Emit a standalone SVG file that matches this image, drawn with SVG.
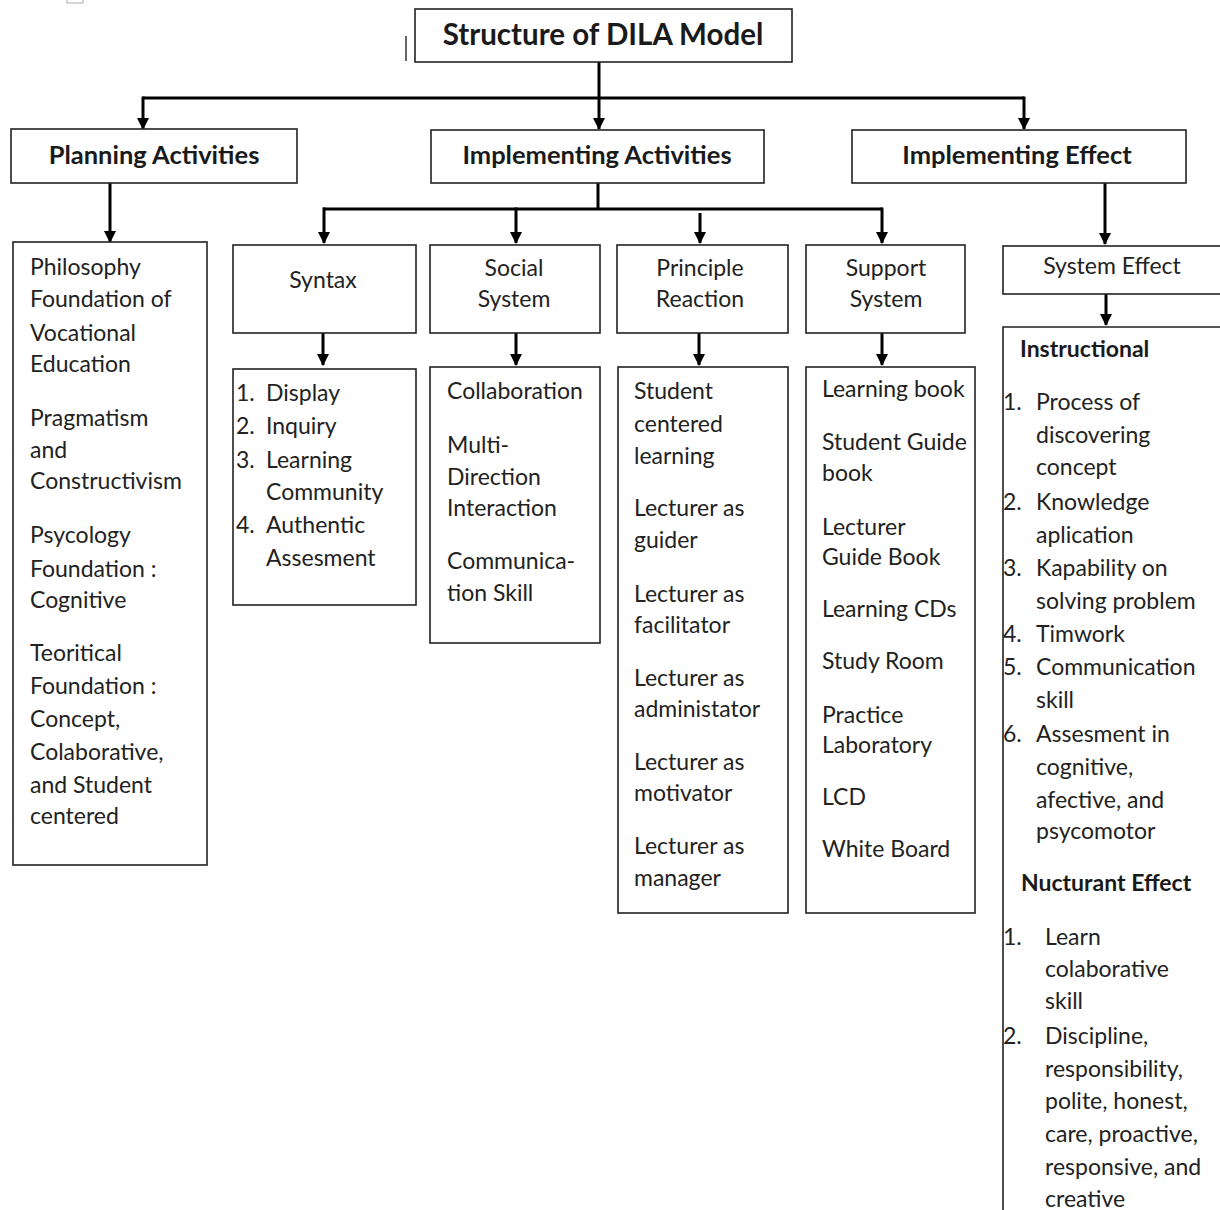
<svg xmlns="http://www.w3.org/2000/svg" width="1220" height="1210" viewBox="0 0 1220 1210">
<style>
.box{fill:#fff;stroke:#222;stroke-width:1.6}
.t{font-family:Lato,"Liberation Sans",sans-serif;font-size:23px;fill:#222}
.c{text-anchor:middle}
.h{font-family:Lato,"Liberation Sans",sans-serif;font-weight:bold;fill:#1a1a1a;text-anchor:middle}
.b{font-family:Lato,"Liberation Sans",sans-serif;font-weight:bold;font-size:23px;fill:#1a1a1a}
.ln{fill:none;stroke:#000;stroke-width:3}
.ar{fill:none;stroke:#000;stroke-width:3;marker-end:url(#ah)}
</style>
<defs>
<marker id="ah" viewBox="0 0 12 12" refX="11" refY="6" markerWidth="12" markerHeight="12" markerUnits="userSpaceOnUse" orient="auto">
<path d="M0,0 L12,6 L0,12 z" fill="#000"/>
</marker>
</defs>
<rect width="1220" height="1210" fill="#fff"/>
<rect x="67" y="-2" width="16" height="5" fill="none" stroke="#aaa" stroke-width="1"/>
<line x1="406" y1="36" x2="406" y2="61" stroke="#333" stroke-width="1.5"/>

<g id="connectors">
<line class="ar" x1="599" y1="62" x2="599" y2="129"/>
<polyline class="ln" points="1024,98 143,98"/>
<line class="ar" x1="143" y1="96.5" x2="143" y2="129"/>
<line class="ar" x1="1024" y1="96.5" x2="1024" y2="129"/>
<line class="ar" x1="110" y1="183" x2="110" y2="242"/>
<line class="ln" x1="598" y1="183" x2="598" y2="209"/>
<line class="ln" x1="323" y1="209" x2="882" y2="209"/>
<line class="ar" x1="324" y1="207.5" x2="324" y2="243"/>
<line class="ar" x1="516" y1="207.5" x2="516" y2="243"/>
<line class="ar" x1="700" y1="213" x2="700" y2="243"/>
<line class="ar" x1="882" y1="207.5" x2="882" y2="243"/>
<line class="ar" x1="1105" y1="183" x2="1105" y2="244"/>
<line class="ar" x1="323" y1="333" x2="323" y2="365"/>
<line class="ar" x1="516" y1="333" x2="516" y2="365"/>
<line class="ar" x1="699" y1="333" x2="699" y2="365"/>
<line class="ar" x1="882" y1="333" x2="882" y2="365"/>
<line class="ar" x1="1106" y1="294" x2="1106" y2="325"/>
</g>

<g id="title">
<rect class="box" x="415" y="9" width="377" height="53"/>
<text class="h" x="603" y="45" font-size="29.5">Structure of DILA Model</text>
</g>
<g id="planning">
<rect class="box" x="11" y="129" width="286" height="54"/>
<text class="h" x="154" y="164" font-size="25.5">Planning Activities</text>
</g>
<g id="implementing-activities">
<rect class="box" x="431" y="130" width="333" height="53"/>
<text class="h" x="597" y="164" font-size="25.5">Implementing Activities</text>
</g>
<g id="implementing-effect">
<rect class="box" x="852" y="130" width="334" height="53"/>
<text class="h" x="1017" y="164" font-size="25.5">Implementing Effect</text>
</g>

<g id="planning-list">
<rect class="box" x="13" y="242" width="194" height="623"/>
<text class="t" x="30">
<tspan x="30" y="275">Philosophy</tspan>
<tspan x="30" y="307">Foundation of</tspan>
<tspan x="30" y="341">Vocational</tspan>
<tspan x="30" y="372">Education</tspan>
<tspan x="30" y="426">Pragmatism</tspan>
<tspan x="30" y="458">and</tspan>
<tspan x="30" y="489">Constructivism</tspan>
<tspan x="30" y="543">Psycology</tspan>
<tspan x="30" y="577">Foundation :</tspan>
<tspan x="30" y="608">Cognitive</tspan>
<tspan x="30" y="661">Teoritical</tspan>
<tspan x="30" y="694">Foundation :</tspan>
<tspan x="30" y="727">Concept,</tspan>
<tspan x="30" y="760">Colaborative,</tspan>
<tspan x="30" y="793">and Student</tspan>
<tspan x="30" y="824">centered</tspan>
</text>
</g>

<g id="syntax">
<rect class="box" x="233" y="245" width="183" height="88"/>
<text class="t c" x="323" y="288" font-size="24">Syntax</text>
</g>
<g id="social-system">
<rect class="box" x="430" y="245" width="170" height="88"/>
<text class="t c"><tspan x="514" y="276">Social</tspan><tspan x="514" y="307">System</tspan></text>
</g>
<g id="principle-reaction">
<rect class="box" x="617" y="245" width="171" height="88"/>
<text class="t c"><tspan x="700" y="276">Principle</tspan><tspan x="700" y="307">Reaction</tspan></text>
</g>
<g id="support-system">
<rect class="box" x="806" y="245" width="159" height="88"/>
<text class="t c"><tspan x="886" y="276">Support</tspan><tspan x="886" y="307">System</tspan></text>
</g>
<g id="system-effect">
<rect class="box" x="1003" y="246" width="222" height="48"/>
<text class="t c" x="1112" y="274">System Effect</text>
</g>

<g id="syntax-list">
<rect class="box" x="233" y="369" width="183" height="236"/>
<text class="t">
<tspan x="236" y="401">1.</tspan><tspan x="266" y="401">Display</tspan>
<tspan x="236" y="434">2.</tspan><tspan x="266" y="434">Inquiry</tspan>
<tspan x="236" y="468">3.</tspan><tspan x="266" y="468">Learning</tspan>
<tspan x="266" y="500">Community</tspan>
<tspan x="236" y="533">4.</tspan><tspan x="266" y="533">Authentic</tspan>
<tspan x="266" y="566">Assesment</tspan>
</text>
</g>
<g id="social-list">
<rect class="box" x="430" y="367" width="170" height="276"/>
<text class="t">
<tspan x="447" y="399">Collaboration</tspan>
<tspan x="447" y="453">Multi-</tspan>
<tspan x="447" y="485">Direction</tspan>
<tspan x="447" y="516">Interaction</tspan>
<tspan x="447" y="569">Communica-</tspan>
<tspan x="447" y="601">tion Skill</tspan>
</text>
</g>
<g id="principle-list">
<rect class="box" x="618" y="367" width="170" height="546"/>
<text class="t">
<tspan x="634" y="399">Student</tspan>
<tspan x="634" y="432">centered</tspan>
<tspan x="634" y="464">learning</tspan>
<tspan x="634" y="516">Lecturer as</tspan>
<tspan x="634" y="548">guider</tspan>
<tspan x="634" y="602">Lecturer as</tspan>
<tspan x="634" y="633">facilitator</tspan>
<tspan x="634" y="686">Lecturer as</tspan>
<tspan x="634" y="717">administator</tspan>
<tspan x="634" y="770">Lecturer as</tspan>
<tspan x="634" y="801">motivator</tspan>
<tspan x="634" y="854">Lecturer as</tspan>
<tspan x="634" y="886">manager</tspan>
</text>
</g>
<g id="support-list">
<rect class="box" x="806" y="367" width="169" height="546"/>
<text class="t">
<tspan x="822" y="397">Learning book</tspan>
<tspan x="822" y="450">Student Guide</tspan>
<tspan x="822" y="481">book</tspan>
<tspan x="822" y="535">Lecturer</tspan>
<tspan x="822" y="565">Guide Book</tspan>
<tspan x="822" y="617">Learning CDs</tspan>
<tspan x="822" y="669">Study Room</tspan>
<tspan x="822" y="723">Practice</tspan>
<tspan x="822" y="753">Laboratory</tspan>
<tspan x="822" y="805">LCD</tspan>
<tspan x="822" y="857">White Board</tspan>
</text>
</g>
<g id="effect-list">
<path class="box" d="M1225,327 H1003 V1215"/>
<text class="b" x="1020" y="357">Instructional</text>
<text class="t">
<tspan x="1003" y="410">1.</tspan><tspan x="1036" y="410">Process of</tspan>
<tspan x="1036" y="443">discovering</tspan>
<tspan x="1036" y="475">concept</tspan>
<tspan x="1003" y="510">2.</tspan><tspan x="1036" y="510">Knowledge</tspan>
<tspan x="1036" y="543">aplication</tspan>
<tspan x="1003" y="576">3.</tspan><tspan x="1036" y="576">Kapability on</tspan>
<tspan x="1036" y="609">solving problem</tspan>
<tspan x="1003" y="642">4.</tspan><tspan x="1036" y="642">Timwork</tspan>
<tspan x="1003" y="675">5.</tspan><tspan x="1036" y="675">Communication</tspan>
<tspan x="1036" y="708">skill</tspan>
<tspan x="1003" y="742">6.</tspan><tspan x="1036" y="742">Assesment in</tspan>
<tspan x="1036" y="775">cognitive,</tspan>
<tspan x="1036" y="808">afective, and</tspan>
<tspan x="1036" y="839">psycomotor</tspan>
</text>
<text class="b" x="1021" y="891">Nucturant Effect</text>
<text class="t">
<tspan x="1003" y="945">1.</tspan><tspan x="1045" y="945">Learn</tspan>
<tspan x="1045" y="977">colaborative</tspan>
<tspan x="1045" y="1009">skill</tspan>
<tspan x="1003" y="1044">2.</tspan><tspan x="1045" y="1044">Discipline,</tspan>
<tspan x="1045" y="1077">responsibility,</tspan>
<tspan x="1045" y="1109">polite, honest,</tspan>
<tspan x="1045" y="1142">care, proactive,</tspan>
<tspan x="1045" y="1175">responsive, and</tspan>
<tspan x="1045" y="1207">creative</tspan>
</text>
</g>
</svg>
